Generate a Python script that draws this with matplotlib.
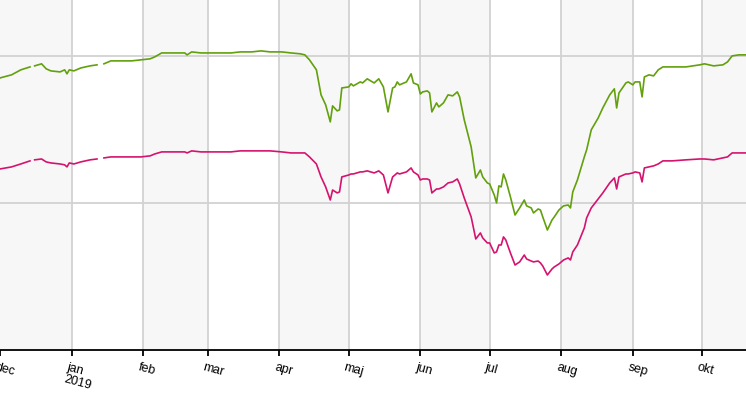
import numpy as np
import pandas as pd
import matplotlib
matplotlib.use("Agg")
import matplotlib.pyplot as plt
import matplotlib.transforms as mtransforms

start_date = "2018-12-01"
end_offset = 323

# day offsets from start_date (NaN entries mark gaps in the data)
day_offsets = [0, 5, 9, 13, 14, 15, 18, 20, 22, 26, 28, 29, 30, 32, 35, 39, 42, 44,
               45, 48, 52, 57, 61, 65, 67, 70, 74, 80, 81, 83, 87, 91, 96, 100,
               104, 109, 113, 117, 122, 126, 130, 132, 134, 137, 139, 141, 143, 144,
               146, 147, 148, 151, 152, 153, 156, 157, 159, 162, 164, 166, 168, 170,
               171, 172, 173, 176, 178, 179, 181, 182, 183, 185, 186, 187, 189, 190,
               192, 194, 196, 198, 199, 201, 204, 206, 208, 209, 211, 212, 214, 215,
               216, 217, 218, 219, 221, 223, 225, 227, 228, 230, 231, 233, 234, 235,
               237, 239, 240, 242, 244, 246, 247, 248, 250, 253, 254, 256, 259, 261,
               264, 266, 267, 268, 271, 272, 274, 275, 277, 278, 279, 281, 283, 285,
               287, 291, 297, 303, 305, 309, 313, 315, 317, 320, 323]

green_values = [185.0, 187.1, 190.5, 192.5, np.nan, 193.2, 194.6, 191.2, 189.8, 189.1,
                190.5, 187.8, 190.5, 189.8, 191.8, 193.2, 193.9, np.nan,
                194.6, 196.6, 196.6, 196.6, 197.3, 198.0, 199.3, 202.0, 202.0, 202.0,
                200.7, 202.7, 202.0, 202.0, 202.0, 202.0,
                202.7, 202.7, 203.4, 202.7, 202.7, 202.0, 201.4, 200.7, 197.3, 190.5,
                173.5, 166.7, 155.1, 166.0,
                162.6, 163.3, 178.2, 178.9, 181.0, 179.6, 182.3, 181.6, 184.4, 181.6,
                184.4, 178.9, 161.9, 178.2,
                178.9, 182.3, 180.3, 182.3, 187.8, 181.6, 180.3, 174.1, 175.5, 176.2,
                174.8, 161.9, 168.0, 165.3,
                168.0, 173.5, 172.8, 175.5, 172.1, 156.5, 138.1, 117.0, 122.4, 117.7,
                113.6, 112.9, 105.4, 100.0,
                111.6, 110.9, 119.7, 115.6, 104.1, 91.8, 96.6, 102.0, 98.0, 96.6,
                93.2, 95.9, 95.2, 90.5,
                81.6, 88.4, 90.5, 95.2, 98.0, 98.6, 96.6, 107.5, 115.6, 131.3,
                136.1, 149.7, 157.8, 164.6,
                173.5, 177.6, 164.6, 174.8, 181.6, 182.3, 180.3, 182.3, 182.3, 172.1,
                185.7, 187.1, 186.4, 190.5,
                192.5, 192.5, 192.5, 193.9, 194.6, 193.2, 193.9, 195.9, 200.0, 200.7, 200.7]

magenta_values = [123.1, 124.5, 126.5, 128.6, np.nan, 129.3, 129.9, 127.9, 127.2, 126.5,
                  125.9, 124.5, 127.2, 126.5, 127.9, 129.3, 129.9, np.nan,
                  130.6, 131.3, 131.3, 131.3, 131.3, 132.0, 133.3, 134.7, 134.7, 134.7,
                  134.0, 135.4, 134.7, 134.7, 134.7, 134.7,
                  135.4, 135.4, 135.4, 135.4, 134.7, 134.0, 134.0, 134.0, 131.3, 126.5,
                  117.7, 110.9, 102.0, 108.8,
                  106.8, 107.5, 117.7, 119.0, 119.7, 119.7, 121.1, 121.1, 121.8, 120.4,
                  121.8, 119.0, 106.8, 117.7,
                  119.0, 120.4, 119.7, 121.1, 123.8, 121.1, 119.0, 115.6, 116.3, 116.3,
                  115.6, 106.8, 109.5, 109.5,
                  110.9, 113.6, 114.3, 116.3, 112.9, 103.4, 90.5, 75.5, 79.6, 76.2,
                  72.8, 72.8, 66.0, 66.7,
                  71.4, 71.4, 76.9, 74.8, 66.0, 57.8, 59.9, 64.6, 61.9, 60.5,
                  59.9, 60.5, 59.2, 57.1,
                  51.0, 55.1, 56.5, 58.5, 61.2, 62.6, 61.2, 66.7, 71.4, 83.0,
                  89.8, 96.6, 102.7, 106.8,
                  113.6, 117.0, 109.5, 117.7, 119.7, 119.7, 120.4, 121.1, 120.4, 114.3,
                  123.8, 124.5, 125.2, 126.5,
                  128.6, 128.6, 129.3, 129.9, 129.9, 129.3, 130.6, 131.3, 134.0, 134.0, 134.0]

month_labels = ["dec", "jan\n2019", "feb", "mar", "apr", "maj", "jun", "jul",
                "aug", "sep", "okt"]
month_starts = ["2018-12-01", "2019-01-01", "2019-02-01", "2019-03-01", "2019-04-01",
                "2019-05-01", "2019-06-01", "2019-07-01", "2019-08-01", "2019-09-01",
                "2019-10-01", "2019-11-01"]
grid_values = [100, 200]

t0 = pd.Timestamp(start_date)
dates = [t0 + pd.Timedelta(days=d) for d in day_offsets]
mstarts = [pd.Timestamp(m) for m in month_starts]

fig = plt.figure(figsize=(7.46, 4.19), dpi=100)
ax = fig.add_axes([0, 0.1647, 1, 0.8353])

# alternating month shading
for i in range(len(mstarts) - 1):
    if i % 2 == 0:
        ax.axvspan(mstarts[i], mstarts[i + 1], color="#f7f7f7", zorder=0, lw=0)

for m in mstarts[1:-1]:
    ax.axvline(m, color="#d2d2d2", lw=1.3, zorder=1)
for g in grid_values:
    ax.axhline(g, color="#d2d2d2", lw=1.3, zorder=1)

ax.plot(dates, green_values, color="#62a00c", lw=1.2, zorder=3)
ax.plot(dates, magenta_values, color="#d5136f", lw=1.2, zorder=3)

ax.set_xlim(t0 + pd.Timedelta(hours=12), t0 + pd.Timedelta(days=end_offset))
ax.set_ylim(0, 238)

for s in ["top", "right", "left"]:
    ax.spines[s].set_visible(False)
ax.spines["bottom"].set_color("black")
ax.spines["bottom"].set_linewidth(1.3)
ax.set_yticks([])

ax.set_xticks(mstarts[:-1])
ax.set_xticklabels(month_labels, rotation=-15, ha="left", rotation_mode="anchor",
                   fontsize=9, color="black", linespacing=1.12,
                   family=["Liberation Sans", "DejaVu Sans"])
ax.tick_params(axis="x", length=4, width=1.3, color="black", pad=4)
offset = mtransforms.ScaledTranslation(-3 / 100, 0, fig.dpi_scale_trans)
for lbl in ax.get_xticklabels():
    lbl.set_transform(lbl.get_transform() + offset)

fig.savefig("out.png", dpi=100)
